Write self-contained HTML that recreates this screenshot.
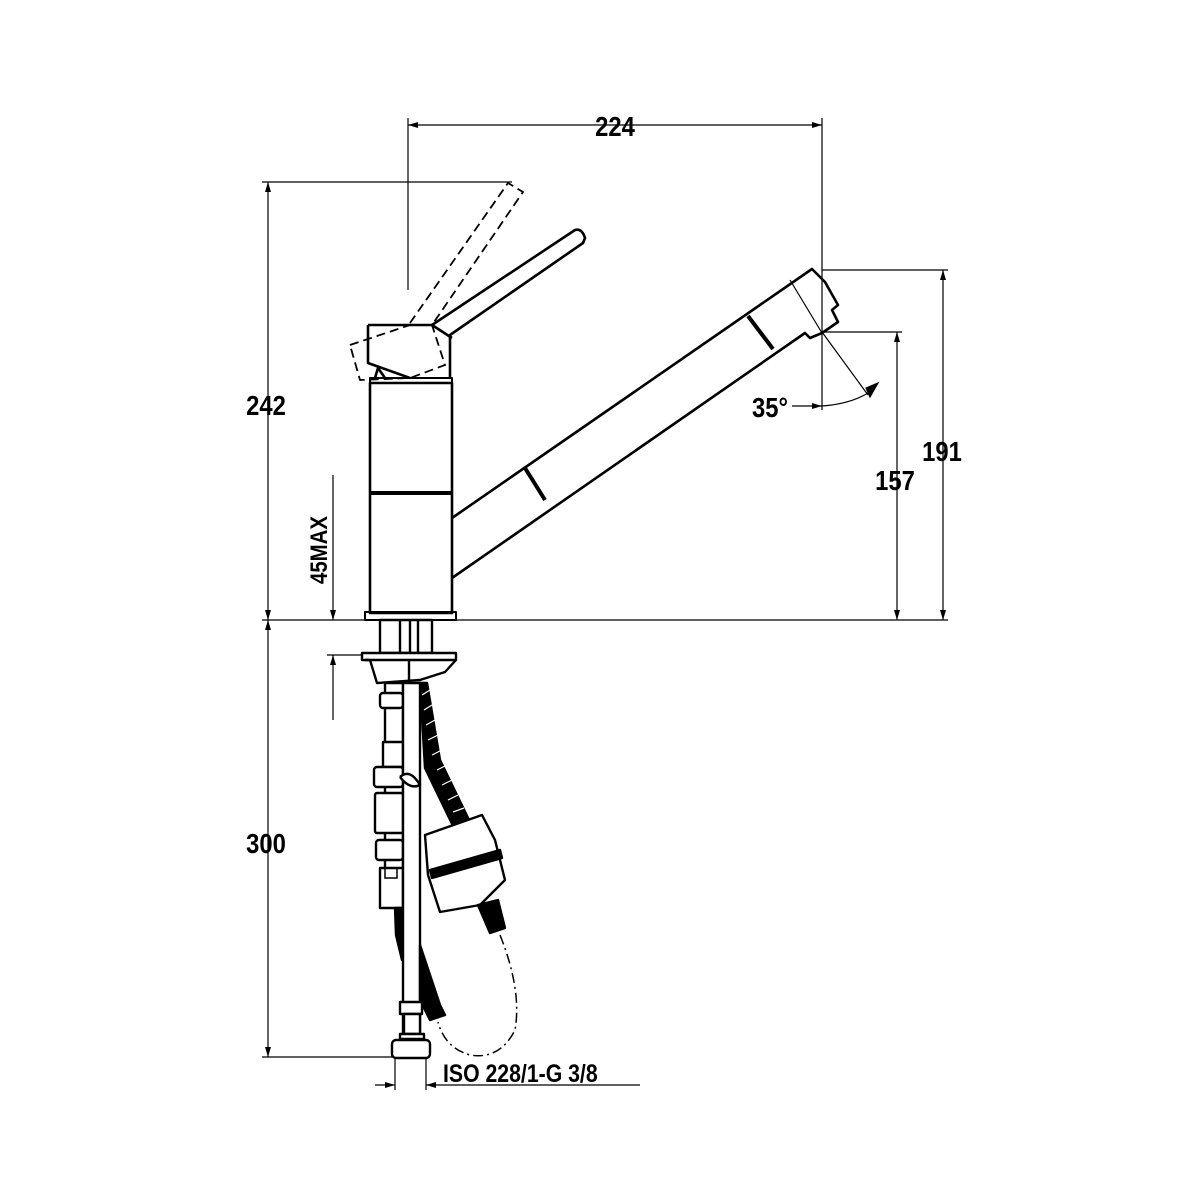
<!DOCTYPE html>
<html><head><meta charset="utf-8"><style>
html,body{margin:0;padding:0;background:#fff}
svg{display:block}
text{font-family:"Liberation Sans Narrow","Liberation Sans",sans-serif;font-weight:bold;fill:#000}
</style></head><body>
<svg width="1200" height="1200" viewBox="0 0 1200 1200" xmlns="http://www.w3.org/2000/svg">
<defs>
<marker id="a" viewBox="0 0 10 6" refX="10" refY="3" markerWidth="14" markerHeight="6" orient="auto-start-reverse" markerUnits="userSpaceOnUse"><path d="M0,0L10,3L0,6z" fill="#000"/></marker>
</defs>
<g stroke="#000" fill="none" stroke-width="1.2">
<line x1="408" y1="125" x2="822" y2="125" marker-start="url(#a)" marker-end="url(#a)"/>
<line x1="408" y1="118" x2="408" y2="290"/>
<line x1="822" y1="118" x2="822" y2="410"/>
<line x1="268" y1="182" x2="268" y2="620" marker-start="url(#a)" marker-end="url(#a)"/>
<line x1="262" y1="182" x2="512" y2="182"/>
<line x1="262" y1="620" x2="948" y2="620"/>
<line x1="268" y1="620" x2="268" y2="1057" marker-start="url(#a)" marker-end="url(#a)"/>
<line x1="262" y1="1057" x2="398" y2="1057"/>
<line x1="333" y1="475" x2="333" y2="620" marker-end="url(#a)"/>
<line x1="333" y1="720" x2="333" y2="655" marker-end="url(#a)"/>
<line x1="327" y1="655" x2="372" y2="655"/>
<line x1="943" y1="270" x2="943" y2="620" marker-start="url(#a)" marker-end="url(#a)"/>
<line x1="822" y1="270" x2="948" y2="270"/>
<line x1="897" y1="332" x2="897" y2="620" marker-start="url(#a)" marker-end="url(#a)"/>
<line x1="822" y1="332" x2="902" y2="332"/>
<line x1="822" y1="332" x2="868" y2="395"/>
<path d="M822,406 Q850,404 868,393"/>
<line x1="792" y1="406" x2="822" y2="406" marker-end="url(#a)"/>
<path d="M866,388L878,383L870,397z" fill="#000"/>
<line x1="375" y1="1085" x2="395" y2="1085" marker-end="url(#a)"/>
<line x1="640" y1="1085" x2="426" y2="1085" marker-end="url(#a)"/>
<line x1="395" y1="1055" x2="395" y2="1090"/>
<line x1="426" y1="1055" x2="426" y2="1090"/>
</g>
<g stroke="#000" fill="none" stroke-width="2.6" stroke-linejoin="round">
<rect x="370" y="383" width="82" height="230"/>
<line x1="370" y1="493" x2="452" y2="493" stroke-width="4"/>
<rect x="370" y="378" width="82" height="5" stroke-width="2"/>
<rect x="365" y="612" width="91" height="8" stroke-width="2"/>
<path d="M452,518 L812,269 L825,282 L838,305 L832,310 L838,322 L822,333 L810,338 L805,333 L452,578"/>
<line x1="748" y1="316" x2="773" y2="349" stroke-width="4"/>
<line x1="525" y1="468" x2="545" y2="500" stroke-width="4"/>
<line x1="790" y1="280" x2="822" y2="333" stroke-width="1.2"/>
<path d="M368,325 L432,325 L575,230 Q582,228 585,238 L583,243 L450,335 L450,378"/>
<path d="M368,325 L368,363 L410,378 M432,325 L452,338"/>
<path d="M375,378 L378,368 L385,378"/>
</g>
<g stroke="#000" fill="none" stroke-width="1.8" stroke-dasharray="9,5">
<path d="M350,345 L410,325 L432,325 L445,365 L410,378 L360,380 Z"/>
<path d="M410,323 L508,183 L523,192 L432,325"/>
</g>
<g stroke="#000" fill="#fff" stroke-width="2.4" stroke-linejoin="round">
<rect x="380" y="620" width="52" height="33"/>
<line x1="400" y1="620" x2="400" y2="653"/><line x1="410" y1="620" x2="410" y2="653"/><line x1="418" y1="620" x2="418" y2="653"/>
<path d="M362,653 L456,653 L456,660 L445,672 L420,680 L377,683 L370,660 L362,660 Z"/>
<line x1="409" y1="660" x2="409" y2="683"/>
<line x1="365" y1="660" x2="456" y2="660"/>
<path d="M420,683 L427,683 L440,760 L470,822 L455,830 L425,768 Z" fill="#000"/>
<path d="M422,695 L430,690 M424,710 L432,705 M426,725 L435,720 M428,740 L438,735 M432,755 L442,750 M437,770 L447,765 M442,785 L452,780 M448,800 L458,795 M453,812 L464,808" stroke="#fff" stroke-width="1.2"/>
<rect x="385" y="683" width="18" height="222"/>
<rect x="380" y="693" width="23" height="15" rx="3"/>
<rect x="383" y="742" width="20" height="25"/>
<rect x="374" y="767" width="29" height="20" rx="3"/>
<rect x="375" y="793" width="28" height="40" rx="2"/>
<rect x="376" y="840" width="27" height="20" rx="3"/>
<rect x="380" y="868" width="23" height="40"/>
<rect x="403" y="683" width="17" height="350"/>
<path d="M400,777 Q410,768 420,785 Q410,790 400,777"/>
<path d="M420,945 L440,1005 L445,1015 L430,1020 L420,1000 Z" fill="#000"/>
<path d="M395,908 L402,908 L402,960 L396,935 Z" fill="#000"/>
<path d="M425,835 L482,815 L495,840 L505,880 L480,905 L440,912 L428,875 Z"/>
<path d="M430,870 L500,850 L502,858 L432,878 Z" fill="#000"/>
<path d="M478,905 L498,900 L505,928 L490,933 Z" fill="#000"/>
<rect x="400" y="1002" width="22" height="12"/>
<rect x="404" y="1014" width="16" height="20"/>
<rect x="400" y="1034" width="24" height="5"/>
<rect x="392" y="1040" width="38" height="18" rx="4"/>
</g>
<path d="M500,935 Q522,990 515,1030 Q500,1060 470,1055 Q445,1048 438,1022" stroke="#000" fill="none" stroke-width="1.5" stroke-dasharray="10,4,2,4"/>
<rect x="385" y="868" width="12" height="10" fill="none" stroke="#000" stroke-width="1.5"/>
<g font-size="28">
<text x="615" y="136" text-anchor="middle" transform="translate(615,0) scale(0.85,1) translate(-615,0)">224</text>
<text x="266" y="415" text-anchor="middle" transform="translate(266,0) scale(0.85,1) translate(-266,0)">242</text>
<text x="266" y="853" text-anchor="middle" transform="translate(266,0) scale(0.85,1) translate(-266,0)">300</text>
<text x="942" y="461" text-anchor="middle" transform="translate(942,0) scale(0.85,1) translate(-942,0)">191</text>
<text x="895" y="490" text-anchor="middle" transform="translate(895,0) scale(0.85,1) translate(-895,0)">157</text>
<text x="770" y="417" text-anchor="middle" transform="translate(770,0) scale(0.85,1) translate(-770,0)">35°</text>
</g>
<text x="0" y="0" font-size="24" text-anchor="middle" transform="translate(327,550) rotate(-90) scale(0.85,1)">45MAX</text>
<text x="0" y="0" font-size="25" transform="translate(443,1082) scale(0.85,1)">ISO 228/1-G 3/8</text>
</svg>
</body></html>
